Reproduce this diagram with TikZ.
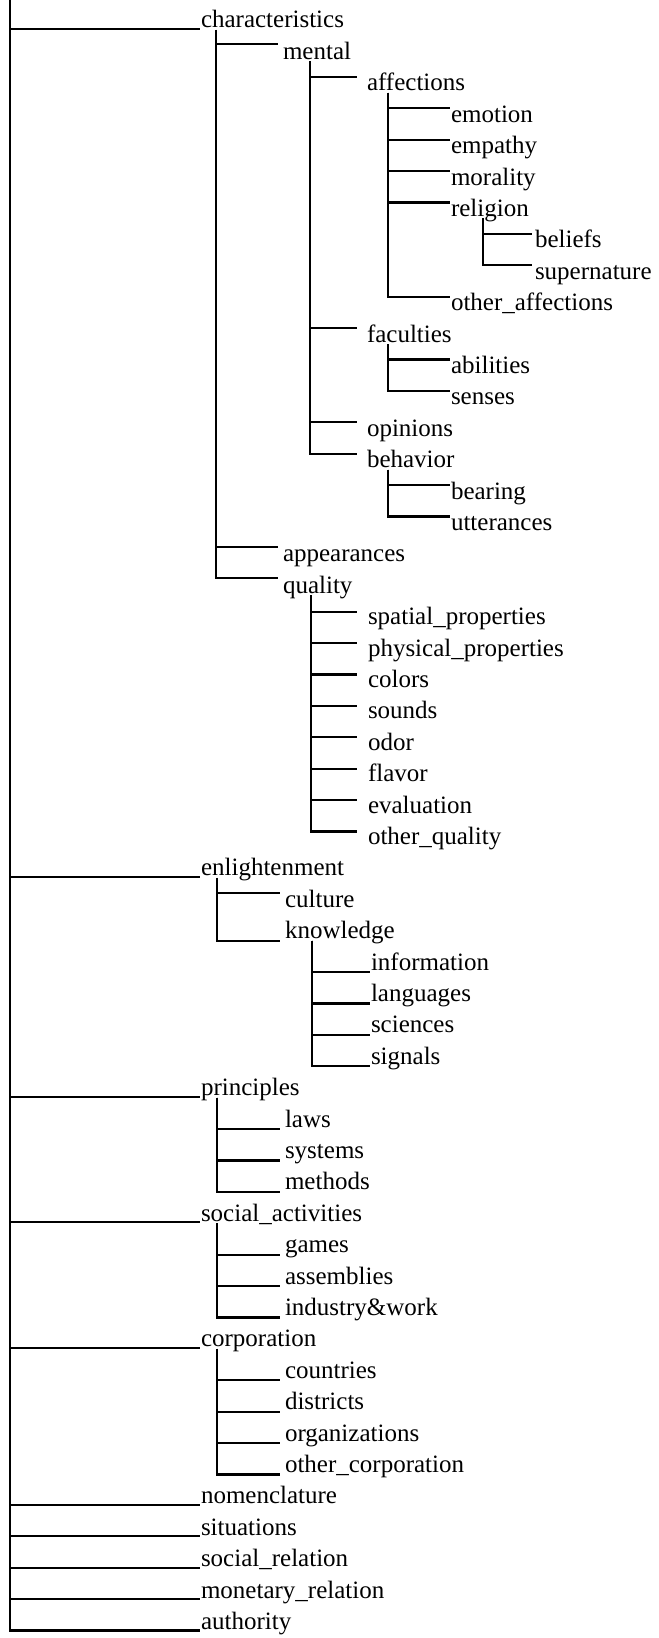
\documentclass[tikz,border=0pt]{standalone}
\usepackage{fontspec}
\setmainfont{Liberation Serif}
\begin{document}
\begin{tikzpicture}[x=1bp,y=-1bp,
  declare function={ry(\i)=28+31.4*\i;},
  lbl/.style={anchor=base west,inner sep=0pt,outer sep=0pt,font=\fontsize{25bp}{30bp}\selectfont},
  conn/.style={line width=2.2bp,black}]
\useasboundingbox (0,0) rectangle (659,1638);
\newcommand\treeconn[5]{\draw[conn] ([xshift=#3bp]#1.base west) ++(0,2) |- ([xshift=-#4bp,yshift=#5bp]#2.base west);}
\newcommand\rootconn[1]{\draw[conn] (root) |- ([xshift=-1bp,yshift=-1bp]#1.base west);}
\coordinate (root) at (10,0);
% level 1
\node[lbl] (char) at (201,{ry(0)}) {characteristics};
\node[lbl] (enl) at (201,{ry(27)}) {enlightenment};
\node[lbl] (princ) at (201,{ry(34)}) {principles};
\node[lbl] (soc) at (201,{ry(38)}) {social\_activities};
\node[lbl] (corp) at (201,{ry(42)}) {corporation};
\node[lbl] (nom) at (201,{ry(47)}) {nomenclature};
\node[lbl] (sit) at (201,{ry(48)}) {situations};
\node[lbl] (socrel) at (201,{ry(49)}) {social\_relation};
\node[lbl] (mon) at (201,{ry(50)}) {monetary\_relation};
\node[lbl] (auth) at (201,{ry(51)}) {authority};
% characteristics subtree
\node[lbl] (mental) at (283,{ry(1)}) {mental};
\node[lbl] (aff) at (367,{ry(2)}) {affections};
\node[lbl] (emo) at (451,{ry(3)}) {emotion};
\node[lbl] (emp) at (451,{ry(4)}) {empathy};
\node[lbl] (mor) at (451,{ry(5)}) {morality};
\node[lbl] (rel) at (451,{ry(6)}) {religion};
\node[lbl] (bel) at (535,{ry(7)}) {beliefs};
\node[lbl] (sup) at (535,{ry(8)}) {supernature};
\node[lbl] (oaff) at (451,{ry(9)}) {other\_affections};
\node[lbl] (fac) at (367,{ry(10)}) {faculties};
\node[lbl] (abi) at (451,{ry(11)}) {abilities};
\node[lbl] (sen) at (451,{ry(12)}) {senses};
\node[lbl] (opi) at (367,{ry(13)}) {opinions};
\node[lbl] (beh) at (367,{ry(14)}) {behavior};
\node[lbl] (bea) at (451,{ry(15)}) {bearing};
\node[lbl] (utt) at (451,{ry(16)}) {utterances};
\node[lbl] (app) at (283,{ry(17)}) {appearances};
\node[lbl] (qual) at (283,{ry(18)}) {quality};
\node[lbl] (spa) at (368,{ry(19)}) {spatial\_properties};
\node[lbl] (phy) at (368,{ry(20)}) {physical\_properties};
\node[lbl] (col) at (368,{ry(21)}) {colors};
\node[lbl] (sou) at (368,{ry(22)}) {sounds};
\node[lbl] (odo) at (368,{ry(23)}) {odor};
\node[lbl] (fla) at (368,{ry(24)}) {flavor};
\node[lbl] (eva) at (368,{ry(25)}) {evaluation};
\node[lbl] (oqu) at (368,{ry(26)}) {other\_quality};
% enlightenment subtree
\node[lbl] (cul) at (285,{ry(28)}) {culture};
\node[lbl] (kno) at (285,{ry(29)}) {knowledge};
\node[lbl] (inf) at (371,{ry(30)}) {information};
\node[lbl] (lan) at (371,{ry(31)}) {languages};
\node[lbl] (sci) at (371,{ry(32)}) {sciences};
\node[lbl] (sig) at (371,{ry(33)}) {signals};
% principles subtree
\node[lbl] (law) at (285,{ry(35)}) {laws};
\node[lbl] (sys) at (285,{ry(36)}) {systems};
\node[lbl] (met) at (285,{ry(37)}) {methods};
% social activities subtree
\node[lbl] (gam) at (285,{ry(39)}) {games};
\node[lbl] (ass) at (285,{ry(40)}) {assemblies};
\node[lbl] (ind) at (285,{ry(41)}) {industry\&work};
% corporation subtree
\node[lbl] (cou) at (285,{ry(43)}) {countries};
\node[lbl] (dis) at (285,{ry(44)}) {districts};
\node[lbl] (org) at (285,{ry(45)}) {organizations};
\node[lbl] (ocor) at (285,{ry(46)}) {other\_corporation};
% connectors
\foreach \c in {char,enl,princ,soc,corp,nom,sit,socrel,mon,auth} {\rootconn{\c}}
\foreach \c in {mental,app,qual} {\treeconn{char}{\c}{15}{5}{15}}
\foreach \c in {aff,fac,opi,beh} {\treeconn{mental}{\c}{27}{10}{14}}
\foreach \c in {emo,emp,mor,rel,oaff} {\treeconn{aff}{\c}{21}{1}{14}}
\foreach \c in {bel,sup} {\treeconn{rel}{\c}{32}{3}{14}}
\foreach \c in {abi,sen} {\treeconn{fac}{\c}{21}{1}{14}}
\foreach \c in {bea,utt} {\treeconn{beh}{\c}{21}{1}{14}}
\foreach \c in {spa,phy,col,sou,odo,fla,eva,oqu} {\treeconn{qual}{\c}{28}{11}{13}}
\treeconn{enl}{cul}{16}{5}{14}
\treeconn{enl}{kno}{16}{5}{-2}
\foreach \c in {inf,lan,sci,sig} {\treeconn{kno}{\c}{27}{1}{-2}}
\foreach \c in {law,sys,met} {\treeconn{princ}{\c}{16}{5}{-2}}
\foreach \c in {gam,ass,ind} {\treeconn{soc}{\c}{16}{5}{-2}}
\foreach \c in {cou,dis,org,ocor} {\treeconn{corp}{\c}{16}{5}{-2}}
\end{tikzpicture}
\end{document}
